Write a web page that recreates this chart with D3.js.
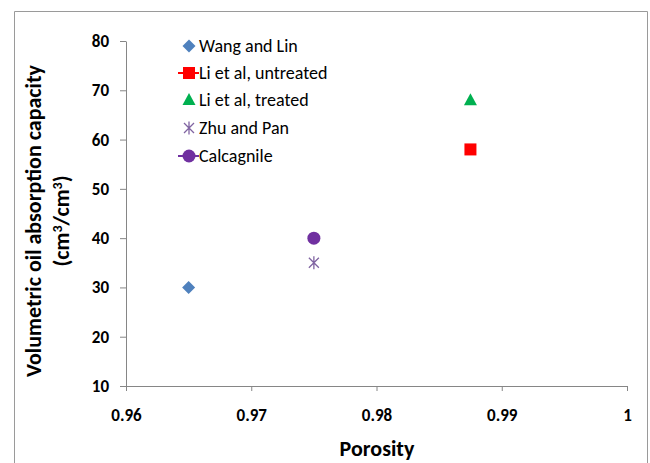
<!DOCTYPE html>
<html>
<head>
<meta charset="utf-8">
<script src="https://cdn.jsdelivr.net/npm/d3@7"></script>
<style>
  body { margin: 0; background: #fff; }
  svg text { font-family: Carlito, Calibri, Lato, "Open Sans", sans-serif; }
</style>
</head>
<body>
<svg id="chart" width="650" height="463"></svg>
<script>
// series names, in legend order
var seriesNames = ["Wang and Lin", "Li et al, untreated", "Li et al, treated", "Zhu and Pan", "Calcagnile"];
// porosity (x) and volumetric capacity (y) for each series
var porosity = [0.965, 0.9875, 0.9875, 0.975, 0.975];
var capacity = [30, 58, 68, 35, 40];
var xTicks = [0.96, 0.97, 0.98, 0.99, 1];
var yTicks = [10, 20, 30, 40, 50, 60, 70, 80];

var colors = ["#4F81BD", "#FF0000", "#00B050", "#8064A2", "#7030A0"];
var shapes = ["diamond", "square", "triangle", "star", "circle"];
var legendLine = [false, true, false, false, true];

var svg = d3.select("#chart");
var axisColor = "#868686";

// outer chart border (bottom edge is cut off in the original)
svg.append("path")
  .attr("d", "M14.5,463 L14.5,11.5 L647.5,11.5 L647.5,463")
  .attr("fill", "none")
  .attr("stroke", "#9a9a9a")
  .attr("stroke-width", 1);

var x = d3.scaleLinear().domain([0.96, 1]).range([126, 627]);
var y = d3.scaleLinear().domain([10, 80]).range([386, 41]);

// axes
var xAxis = svg.append("g")
  .attr("transform", "translate(0," + y(10) + ")")
  .call(d3.axisBottom(x).tickValues(xTicks).tickSize(5).tickSizeOuter(0)
    .tickFormat(function(d) { return d === 1 ? "1" : d3.format(".2f")(d); }));
var yAxis = svg.append("g")
  .attr("transform", "translate(" + x(0.96) + ",0)")
  .call(d3.axisLeft(y).tickValues(yTicks).tickSize(6).tickSizeOuter(0));

[xAxis, yAxis].forEach(function(g) {
  g.select(".domain").attr("stroke", axisColor);
  g.selectAll(".tick line").attr("stroke", axisColor);
  g.selectAll(".tick text")
    .attr("fill", "#000")
    .style("font-size", "17px")
    .style("font-weight", "bold");
});
xAxis.selectAll(".tick text").attr("dy", "0").attr("y", 35);
yAxis.selectAll(".tick text").attr("x", -17);

// axis titles
svg.append("text")
  .attr("x", 377)
  .attr("y", 456)
  .attr("text-anchor", "middle")
  .style("font-size", "22px")
  .style("font-weight", "bold")
  .text("Porosity");

var yTitle = svg.append("text")
  .attr("transform", "translate(41,221) rotate(-90)")
  .attr("text-anchor", "middle")
  .style("font-size", "22px")
  .style("font-weight", "bold");
yTitle.append("tspan").attr("x", 0).attr("y", 0).text("Volumetric oil absorption capacity");
var t2 = yTitle.append("tspan").attr("x", 0).attr("y", 28);
t2.append("tspan").text("(cm");
t2.append("tspan").attr("dy", -7).style("font-size", "14px").text("3");
t2.append("tspan").attr("dy", 7).text("/cm");
t2.append("tspan").attr("dy", -7).style("font-size", "14px").text("3");
t2.append("tspan").attr("dy", 7).text(")");

// marker drawing
function drawMarker(g, shape, color) {
  if (shape === "diamond") {
    g.append("path").attr("d", "M0,-6.5 L6.5,0 L0,6.5 L-6.5,0 Z")
      .attr("fill", color);
  } else if (shape === "square") {
    g.append("rect").attr("x", -6).attr("y", -6).attr("width", 12).attr("height", 12)
      .attr("fill", color);
  } else if (shape === "triangle") {
    g.append("path").attr("d", "M0,-7 L6.5,5 L-6.5,5 Z").attr("fill", color);
  } else if (shape === "star") {
    g.append("path").attr("d", "M-5,-5 L5,5 M-5,5 L5,-5 M0,-6.5 L0,6.5")
      .attr("stroke", color).attr("stroke-width", 1.3).attr("fill", "none");
  } else if (shape === "circle") {
    g.append("circle").attr("r", 6.5).attr("fill", color);
  }
}

// data points
seriesNames.forEach(function(name, i) {
  var g = svg.append("g")
    .attr("transform", "translate(" + x(porosity[i]) + "," + y(capacity[i]) + ")");
  drawMarker(g, shapes[i], colors[i]);
});

// legend
var legendY = [46, 73, 100, 128, 156];
seriesNames.forEach(function(name, i) {
  var g = svg.append("g").attr("transform", "translate(189," + legendY[i] + ")");
  if (legendLine[i]) {
    g.append("line").attr("x1", -11).attr("x2", 10).attr("y1", 0).attr("y2", 0)
      .attr("stroke", colors[i]).attr("stroke-width", 2);
  }
  drawMarker(g, shapes[i], colors[i]);
  g.append("text")
    .attr("x", 10)
    .attr("y", 6)
    .style("font-size", "18px")
    .attr("fill", "#000")
    .text(name);
});
</script>
</body>
</html>
